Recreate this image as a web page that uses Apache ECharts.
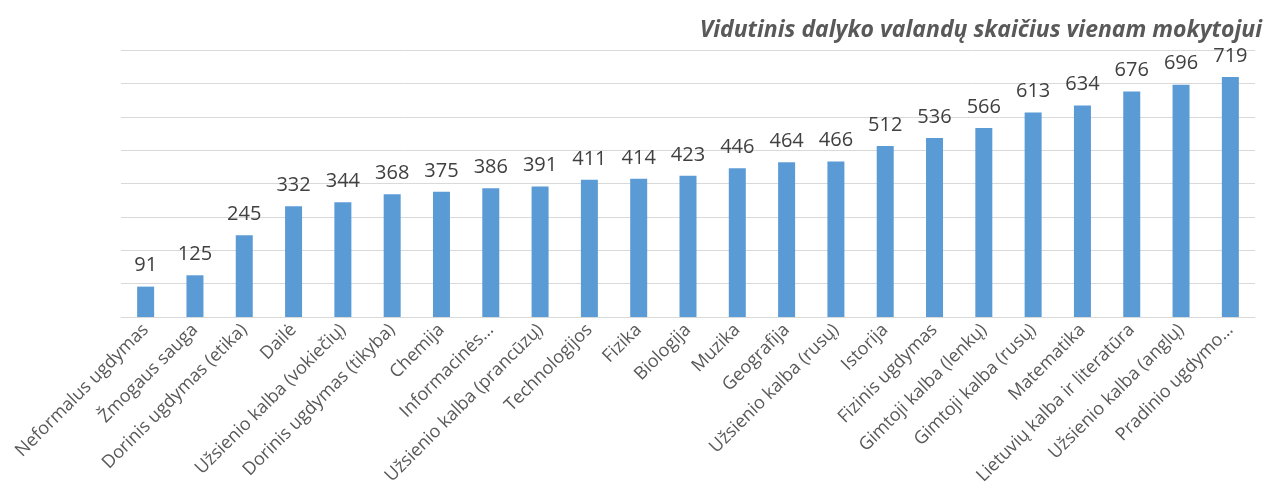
<!DOCTYPE html>
<html>
<head>
<meta charset="utf-8">
<script src="https://cdn.jsdelivr.net/npm/echarts@6/dist/echarts.min.js"></script>
<style>
  html, body { margin: 0; padding: 0; background: #fff; }
  #chart { width: 1268px; height: 503px; }
</style>
</head>
<body>
<div id="chart"></div>
<script>
// Dalykai ir vidutinis valandų skaičius
const subjects = [
    'Neformalus ugdymas', 'Žmogaus sauga', 'Dorinis ugdymas (etika)', 'Dailė',
    'Užsienio kalba (vokiečių)', 'Dorinis ugdymas (tikyba)', 'Chemija', 'Informacinės…',
    'Užsienio kalba (prancūzų)', 'Technologijos', 'Fizika', 'Biologija', 'Muzika',
    'Geografija', 'Užsienio kalba (rusų)', 'Istorija', 'Fizinis ugdymas',
    'Gimtoji kalba (lenkų)', 'Gimtoji kalba (rusų)', 'Matematika',
    'Lietuvių kalba ir literatūra', 'Užsienio kalba (anglų)', 'Pradinio ugdymo…'
];
const hours = [91, 125, 245, 332, 344, 368, 375, 386, 391, 411, 414, 423, 446, 464, 466,
    512, 536, 566, 613, 634, 676, 696, 719];

const chart = echarts.init(document.getElementById('chart'));

chart.setOption({
    animation: false,
    title: {
        text: 'Vidutinis dalyko valandų skaičius vienam mokytojui',
        right: 1,
        top: 14,
        textStyle: {
            fontFamily: 'Open Sans',
            fontSize: 23,
            fontStyle: 'italic',
            fontWeight: 'bold',
            color: '#595959'
        }
    },
    grid: {
        left: 121,
        right: 13,
        top: 50,
        bottom: 186
    },
    xAxis: {
        type: 'category',
        data: subjects,
        axisLine: { lineStyle: { color: '#d9d9d9', width: 1 } },
        axisTick: { show: false },
        axisLabel: {
            interval: 0,
            rotate: 45,
            margin: 10,
            fontFamily: 'Open Sans',
            fontSize: 18,
            color: '#595959'
        }
    },
    yAxis: {
        type: 'value',
        min: 0,
        max: 800,
        interval: 100,
        axisLabel: { show: false },
        axisLine: { show: false },
        axisTick: { show: false },
        splitLine: { lineStyle: { color: '#d9d9d9', width: 1 } }
    },
    series: [{
        type: 'bar',
        data: hours,
        barWidth: 17,
        itemStyle: { color: '#5b9bd5' },
        label: {
            show: true,
            position: 'top',
            distance: 11,
            fontFamily: 'Open Sans',
            fontSize: 20,
            color: '#404040'
        }
    }]
});
</script>
</body>
</html>
